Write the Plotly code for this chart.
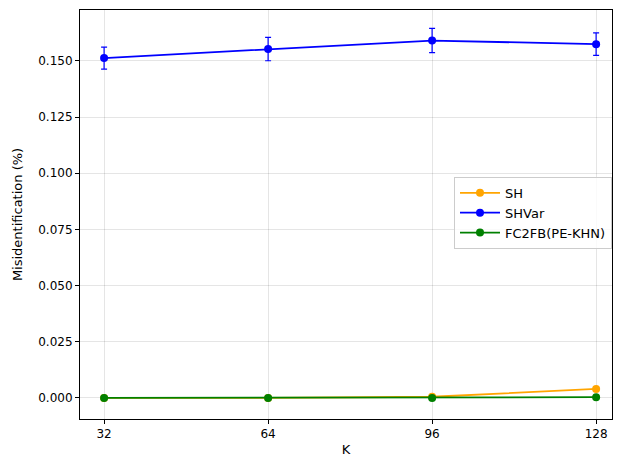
import plotly.graph_objects as go

# K values and misidentification rates
k_values = [32, 64, 96, 128]
sh_mean = [0.0, 0.0, 0.0005, 0.004]
sh_err = [0.0, 0.0, 0.0002, 0.0004]
shvar_mean = [0.1513, 0.1553, 0.1591, 0.1575]
shvar_err = [0.0049, 0.0052, 0.0054, 0.0050]
fc2fb_mean = [0.0, 0.0, 0.0, 0.0003]
fc2fb_err = [0.0, 0.0, 0.0, 0.0001]

series = [
    ("SH", sh_mean, sh_err, "orange"),
    ("SHVar", shvar_mean, shvar_err, "blue"),
    ("FC2FB(PE-KHN)", fc2fb_mean, fc2fb_err, "green"),
]

fig = go.Figure()
for name, ys, errs, color in series:
    fig.add_trace(go.Scatter(
        x=k_values, y=ys, name=name, mode="lines+markers",
        line=dict(color=color, width=1.8),
        marker=dict(color=color, size=8),
        error_y=dict(type="data", array=errs, visible=True,
                     color=color, thickness=1.2, width=3),
    ))

axis_common = dict(
    showline=True, linecolor="black", linewidth=1, mirror=True,
    ticks="outside", ticklen=4, tickcolor="black",
    showgrid=True, gridcolor="rgba(0,0,0,0.1)", gridwidth=1,
    zeroline=False,
    tickfont=dict(color="black", size=12),
)

fig.update_xaxes(
    title=dict(text="K", font=dict(size=13, color="black"), standoff=4),
    tickvals=k_values, range=[27.3, 131.1], **axis_common
)
fig.update_yaxes(
    title=dict(text="Misidentification (%)", font=dict(size=13, color="black"), standoff=12),
    tickvals=[0, 0.025, 0.05, 0.075, 0.1, 0.125, 0.15],
    tickformat=".3f", range=[-0.0094, 0.1727], **axis_common
)

# page body has an 8px margin, so the figure is sized/offset to compensate
fig.update_layout(
    width=622, height=462,
    margin=dict(l=72, r=18, t=2, b=51),
    plot_bgcolor="white", paper_bgcolor="white",
    font=dict(family="DejaVu Sans", size=13, color="black"),
    legend=dict(
        x=1.0, y=0.504, xanchor="right", yanchor="middle",
        bgcolor="rgba(255,255,255,0.8)", bordercolor="#cccccc", borderwidth=1,
        font=dict(size=13), tracegroupgap=2, itemwidth=40,
    ),
)

fig.write_html("out.html")
